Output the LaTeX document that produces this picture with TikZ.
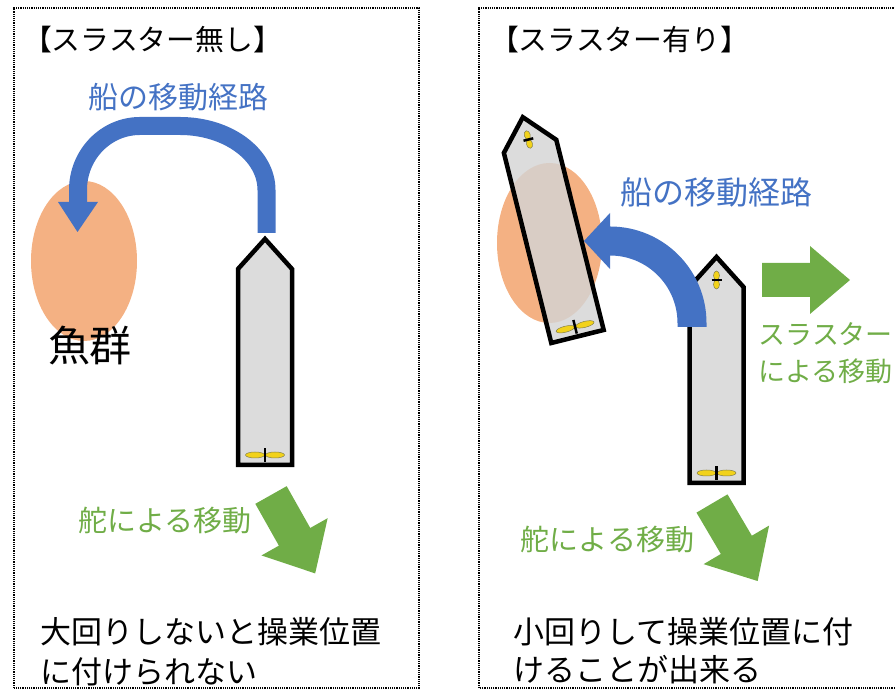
\documentclass[tikz,border=0pt]{standalone}
\usepackage{fontspec}
\setmainfont{Noto Sans CJK JP}
\usetikzlibrary{arrows.meta}

\definecolor{pathblue}{HTML}{4472C4}
\definecolor{movegreen}{HTML}{70AD47}
\definecolor{fishpink}{HTML}{F4B183}
\definecolor{propyellow}{HTML}{F2D21B}

\begin{document}
\begin{tikzpicture}[x=1pt,y=1pt,
  frame/.style={densely dotted, line width=1.2pt},
  hull/.style={draw=black, line width=4.5pt, fill=black!17, fill opacity=0.82},
  blade/.style={fill=propyellow, draw=black!55!yellow, line width=0.5pt},
  route/.style={pathblue, line width=18pt},
  ship/.pic={
    \draw[hull] (-27,0) -- (27,0) -- (27,196) -- (0,226) -- (-27,196) -- cycle;
    \draw[blade] (-10,10) ellipse[x radius=9.5pt, y radius=3pt];
    \draw[blade] (10,10) ellipse[x radius=9.5pt, y radius=3pt];
    \draw[line width=2.5pt] (0,3) -- (0,17);
  },
  bowthruster/.pic={
    \draw[blade] (0,198.5) ellipse[x radius=3pt, y radius=4.5pt];
    \draw[blade] (0,207.5) ellipse[x radius=3pt, y radius=4.5pt];
    \draw[line width=2.5pt] (-5,203) -- (5,203);
  },
  move/.pic={
    \fill[movegreen] (0,-18) -- (48,-18) -- (48,-38) -- (90,0) -- (48,38) -- (48,18) -- (0,18) -- cycle;
  }]
  \useasboundingbox (0,0) rectangle (895,690);
  \clip (0,0) rectangle (895,690);

  \draw[frame] (14,2) rectangle (419,682);
  \draw[frame] (479,2) rectangle (910,682);

  % without thruster
  \node[font=\fontsize{28.8}{32}\selectfont] (titleL) at (152.5,650) {【スラスター無し】};
  \fill[fishpink] (84,429) ellipse[x radius=53pt, y radius=80pt];
  \node[font=\fontsize{42}{45}\selectfont] (fish) at (90,344) {魚群};
  \node[pathblue, font=\fontsize{30}{33}\selectfont] (routeL) at (178.5,593) {船の移動経路};
  \draw[route] (266.5,457) -- (266.5,500) arc[start angle=0, end angle=90, x radius=86.5pt, y radius=64pt]
    -- (140,564) arc[start angle=90, end angle=180, x radius=62pt, y radius=64pt] -- (78,486);
  \fill[pathblue] (58,488) -- (98,488) -- (77.5,458) -- cycle;
  \pic at (265,225) {ship};
  \pic[rotate=-60.6] at (271,195) {move};
  \node[movegreen, font=\fontsize{29}{32}\selectfont] (rudderL) at (165,169) {舵による移動};
  \node[anchor=west, align=left, font=\fontsize{31}{40}\selectfont] (resultL) at (37,38)
    {大回りしないと操業位置\\に付けられない};

  % with thruster
  \node[font=\fontsize{28.8}{32}\selectfont] (titleR) at (619.5,650) {【スラスター有り】};
  \fill[fishpink] (549.5,447) ellipse[x radius=52.5pt, y radius=80pt];
  \pic[rotate=14] at (577.5,353.5) {ship};
  \pic[rotate=14] at (577.5,353.5) {bowthruster};
  \pic at (716.5,207) {ship};
  \pic at (716.5,207) {bowthruster};
  \node[pathblue, font=\fontsize{32}{35}\selectfont] (routeR) at (716,498) {船の移動経路};
  \draw[route, line width=29pt] (692,363) -- (692,367) arc[start angle=0, end angle=90, radius=82pt] -- (608,449);
  \fill[pathblue] (610,477) -- (610,421) -- (584,449) -- cycle;
  \fill[movegreen] (762,393) -- (810,393) -- (810,376) -- (850,410) -- (810,444) -- (810,427) -- (762,427) -- cycle;
  \node[movegreen, anchor=west, align=left, font=\fontsize{27}{37}\selectfont] (thrust) at (755,336.5)
    {スラスター\\による移動};
  \pic[rotate=-59.5] at (712,186.5) {move};
  \node[movegreen, font=\fontsize{29}{32}\selectfont] (rudderR) at (607.5,150) {舵による移動};
  \node[anchor=west, align=left, font=\fontsize{31}{38}\selectfont] (resultR) at (510,39)
    {小回りして操業位置に付\\けることが出来る};
\end{tikzpicture}
\end{document}
